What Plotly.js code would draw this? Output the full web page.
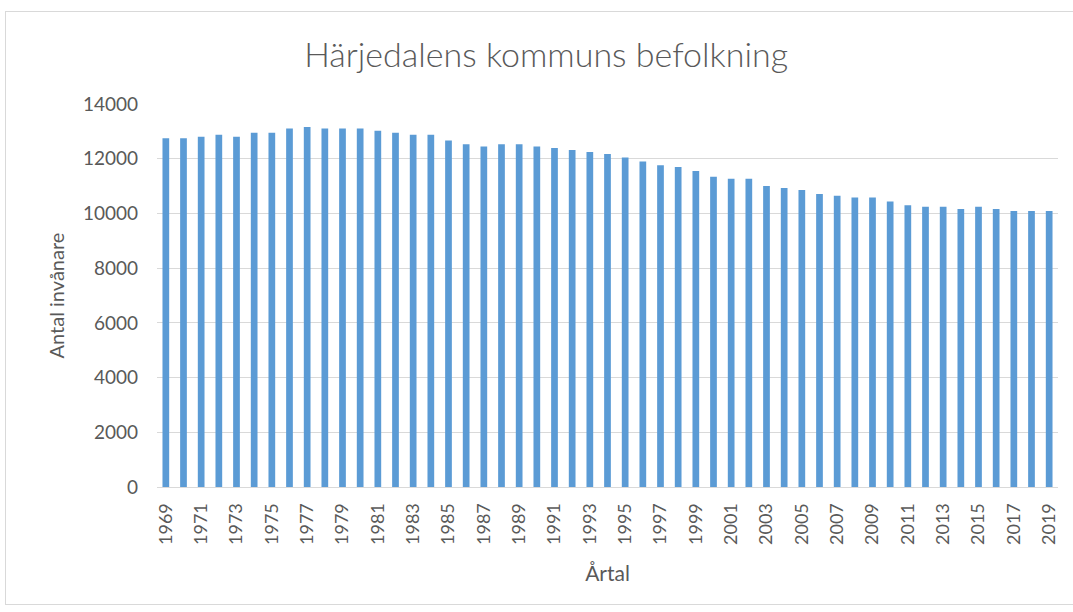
<!DOCTYPE html>
<html>
<head>
<meta charset="utf-8">
<script src="https://cdn.plot.ly/plotly-3.0.1.min.js"></script>
<style>
  html, body { margin: 0; padding: 0; background: #ffffff; }
  #wrap { position: relative; width: 1073px; height: 612px; }
  #chart { width: 1073px; height: 612px; }
  #frame { position: absolute; left: 5px; top: 11px; width: 1070px; height: 594px;
           border: 1px solid #d9d9d9; box-sizing: border-box; pointer-events: none; }
</style>
</head>
<body>
<div id="wrap">
  <div id="chart"></div>
  <div id="frame"></div>
</div>
<script>
const years = [1969,1970,1971,1972,1973,1974,1975,1976,1977,1978,1979,1980,
  1981,1982,1983,1984,1985,1986,1987,1988,1989,1990,1991,1992,1993,1994,1995,
  1996,1997,1998,1999,2000,2001,2002,2003,2004,2005,2006,2007,2008,2009,2010,
  2011,2012,2013,2014,2015,2016,2017,2018,2019];
const population = [12750,12750,12800,12880,12800,12950,12950,13100,13160,13100,13100,13100,
  13020,12950,12880,12880,12670,12530,12450,12530,12530,12450,12390,12320,12250,12170,12040,
  11900,11760,11700,11550,11340,11270,11270,11000,10930,10860,10710,10650,10580,10580,10440,
  10300,10240,10240,10160,10240,10160,10090,10090,10090];
const yTicks = [0,2000,4000,6000,8000,10000,12000,14000];
const xTickYears = years.filter((y, i) => i % 2 === 0);

const titleText = 'Härjedalens kommuns befolkning';
const xTitle = 'Årtal';
const yTitle = 'Antal invånare';

const fontFam = 'Lato, "Open Sans", sans-serif';
const grey = '#595959';

const trace = {
  type: 'bar',
  x: years,
  y: population,
  marker: { color: '#5b9bd5' },
  hoverinfo: 'x+y'
};

const layout = {
  width: 1073,
  height: 612,
  margin: { l: 157, r: 15, t: 104, b: 125 },
  paper_bgcolor: '#ffffff',
  plot_bgcolor: '#ffffff',
  bargap: 0.62,
  showlegend: false,
  font: { family: fontFam, color: grey },
  title: {
    text: titleText,
    font: { family: fontFam, size: 34, color: grey, weight: 300 },
    x: 0.509, xanchor: 'center',
    y: 0.91, yanchor: 'middle'
  },
  xaxis: {
    type: 'linear',
    range: [1968.5, 2019.5],
    tickmode: 'array',
    tickvals: xTickYears,
    ticktext: xTickYears.map(String),
    tickangle: -90,
    tickfont: { family: fontFam, size: 18, color: grey },
    ticklabelstandoff: 8,
    showgrid: false,
    zeroline: false,
    showline: true,
    linecolor: '#d9d9d9',
    linewidth: 1,
    ticks: '',
    title: { text: xTitle, font: { family: fontFam, size: 21, color: grey }, standoff: 22 }
  },
  yaxis: {
    range: [0, 14000],
    tickmode: 'array',
    tickvals: yTicks,
    ticktext: yTicks.map(String),
    tickfont: { family: fontFam, size: 19, color: grey },
    showgrid: true,
    gridcolor: '#d9d9d9',
    gridwidth: 1,
    zeroline: false,
    showline: false,
    ticks: '',
    ticklabelstandoff: 18,
    title: { text: yTitle, font: { family: fontFam, size: 20, color: grey }, standoff: 12 }
  }
};

Plotly.newPlot('chart', [trace], layout, { displayModeBar: false, responsive: false });
</script>
</body>
</html>
